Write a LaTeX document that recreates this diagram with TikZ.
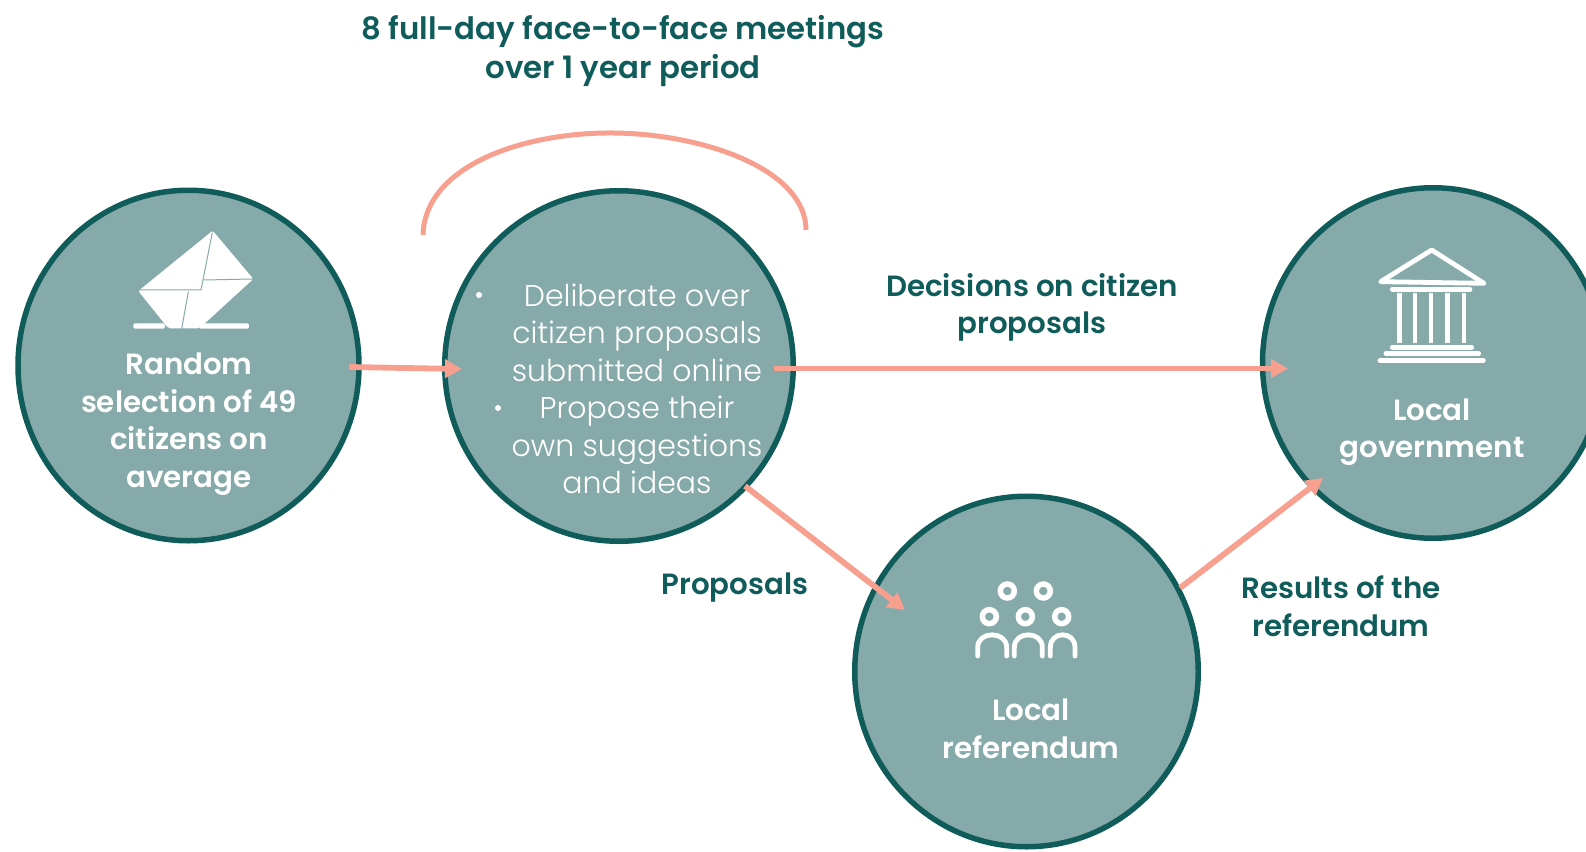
\documentclass[tikz,border=0pt]{standalone}
\usepackage{fontspec}
\setmainfont{Poppins Light}[BoldFont={Poppins SemiBold}]
\usetikzlibrary{arrows.meta,shapes.geometric}
\definecolor{tealfill}{HTML}{86AAA9}
\definecolor{tealdark}{HTML}{0F5C5B}
\definecolor{salmon}{HTML}{F8A08F}
\tikzset{
  disc/.style={ellipse,draw=tealdark,fill=tealfill,line width=5.5pt,inner sep=0pt,minimum height=350.5pt},
  arr/.style={draw=salmon,line width=5.8pt,-{Triangle[length=17pt,width=18pt]}},
  lab/.style={text=tealdark,align=center,font=\fontsize{29.3}{37.5}\selectfont\bfseries},
  titlelab/.style={text=tealdark,align=center,font=\fontsize{30.8}{38.5}\selectfont\bfseries},
  intext/.style={text=white,align=center,font=\fontsize{29.3}{37.5}\selectfont\bfseries},
  thin/.style={text=white,align=center,font=\fontsize{30}{37.5}\selectfont},
  icon/.style={draw=white,line width=4.8pt,line cap=round,line join=round},
  fold/.style={draw=tealfill,line width=1pt}
}
\begin{document}
\begin{tikzpicture}[x=1pt,y=-1pt]
\useasboundingbox (0,0) rectangle (1586,851);
\begin{scope}
\clip (0,0) rectangle (1586,851);
\node[disc,minimum width=341pt] (c1) at (188.5,365.5) {};
\node[disc,minimum width=348.5pt] (c2) at (619,366) {};
\node[disc,minimum width=343.5pt] (c3) at (1026.5,671.5) {};
\node[disc,minimum width=341pt] (c4) at (1433,363) {};
\end{scope}
% arc
\coordinate (arcL) at (423,235);
\coordinate (arcR) at (806,230);
\draw[salmon,line width=5pt] (arcL) .. controls (425,165) and (525,132) .. (614,133) .. controls (705,134) and (806,170) .. (arcR);
% arrows
\coordinate (e2) at (462,369);
\coordinate (s1) at (349,367);
\coordinate (s2) at (774,368.5);
\coordinate (e4) at (1288,368.5);
\coordinate (s3) at (745,486);
\coordinate (e3) at (905,610);
\coordinate (s4) at (1180,588);
\coordinate (e5) at (1323,478);
\draw[arr] (s1) -- (e2);
\draw[arr] (s2) -- (e4);
\draw[arr] (s3) -- (e3);
\draw[arr] (s4) -- (e5);
% texts
\node[titlelab] (title) at (623,51) {8 full-day face-to-face meetings\\over 1 year period};
\node[lab] (dec) at (1032,307.5) {Decisions on citizen\\proposals};
\node[lab] (prop) at (735,588) {Proposals};
\node[lab] (res) at (1341,606) {Results of the\\referendum};
\node[intext] (t1) at (189,424) {Random\\selection of 49\\citizens on\\average};
\node[thin] (t2) at (637,389) {Deliberate over\\citizen proposals\\submitted online\\Propose their\\own suggestions\\and ideas};
\node[circle,fill=white,inner sep=0pt,minimum size=6pt] (b1) at (479,295) {};
\node[circle,fill=white,inner sep=0pt,minimum size=6pt] (b2) at (498,408) {};
\node[intext] (t3) at (1031,729) {Local\\referendum};
\node[intext] (t4) at (1432,432) {Local\\government};
% envelope icon
\begin{scope}[shift={(100,210)},x=0.3333pt,y=-0.3333pt]
\fill[white,rounded corners=2pt] (338,62) -- (460,207) -- (298,355) -- (205,355) -- (115,243) -- cycle;
\draw[fold] (337,68) -- (303,240) -- (118,240);
\draw[fold] (310,210) -- (458,207);
\draw[fold] (265,245) -- (245,357);
\fill[white,rounded corners=1.5pt] (100,340) rectangle (195,356);
\fill[white,rounded corners=1.5pt] (298,340) rectangle (447,356);
\end{scope}
% temple icon
\begin{scope}[shift={(1340,230)},x=0.3333pt,y=-0.3333pt]
\draw[icon] (275,60) -- (122,155) -- (432,160) -- cycle;
\draw[icon] (157,178) -- (390,178);
\foreach \cx in {178,225,273,322,372}{\draw[icon,line cap=butt] (\cx,190) -- (\cx,338);}
\draw[icon] (157,352) -- (395,352);
\draw[icon] (138,371) -- (416,371);
\draw[icon] (120,391) -- (430,391);
\end{scope}
% people icon
\begin{scope}[shift={(945,560)},x=0.3333pt,y=-0.3333pt]
\foreach \px/\py in {187/93,295/93,133/170,241/170,350/170}{\draw[draw=white,line width=5.5pt] (\px,\py) circle[radius=7pt];}
\draw[icon] (98,288) -- (98,262) .. controls (98,212) and (185,212) .. (185,262) -- (185,288);
\draw[icon] (208,288) -- (208,262) .. controls (208,212) and (292,212) .. (292,262) -- (292,288);
\draw[icon] (316,288) -- (316,262) .. controls (316,212) and (390,212) .. (390,262) -- (390,288);
\end{scope}
\end{tikzpicture}
\end{document}
